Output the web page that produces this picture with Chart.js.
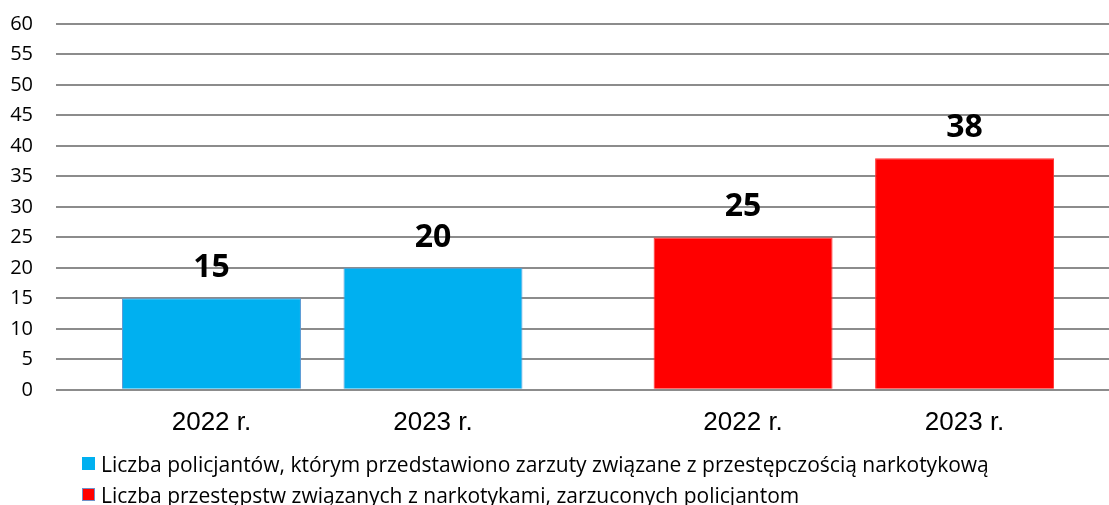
<!DOCTYPE html>
<html lang="pl">
<head>
<meta charset="utf-8">
<script src="https://cdn.jsdelivr.net/npm/chart.js@4"></script>
<style>
  html, body { margin: 0; padding: 0; background: #fff; }
  #wrap { position: relative; width: 1109px; height: 505px; }
  #legend { position: absolute; left: 82px; top: 448px; font-family: 'Open Sans', sans-serif; font-size: 21px; color: #000; }
  .item { display: flex; align-items: center; height: 31px; white-space: nowrap; }
  .box { width: 13px; height: 13px; margin-right: 6px; box-sizing: border-box; }
</style>
</head>
<body>
<div id="wrap">
  <canvas id="chart"></canvas>
  <div id="legend"></div>
</div>
<script>
// --- data ---
const years = ['2022 r.', '2023 r.'];
const officers = [15, 20];
const offences = [25, 38];
const seriesNames = [
  'Liczba policjantów, którym przedstawiono zarzuty związane z przestępczością narkotykową',
  'Liczba przestępstw związanych z narkotykami, zarzuconych policjantom'
];
const yTicks = { min: 0, max: 60, step: 5 };

// --- layout: bar slots along a linear x axis (1 = distance between bars of a group) ---
const GROUP_GAP = 0.4;
const slot = (group, i) => group * (years.length + GROUP_GAP) + i;
const xPositions = [];
const tickLabels = [];
[officers, offences].forEach((vals, g) => vals.forEach((v, i) => { xPositions.push(slot(g, i)); tickLabels.push(years[i]); }));

const colors = ['#00B0F0', '#FF0000'];
const borders = ['#5B9BD5', '#FF3030'];
const legendBorders = ['#00B0F0', '#6F8FC8'];

// numbers above the bars
const valueLabels = {
  id: 'valueLabels',
  afterDatasetsDraw(chart) {
    const ctx = chart.ctx;
    ctx.save();
    ctx.font = 'bold 32px "Open Sans", sans-serif';
    ctx.fillStyle = '#000';
    ctx.textAlign = 'center';
    ctx.textBaseline = 'alphabetic';
    chart.data.datasets.forEach((ds, di) => {
      chart.getDatasetMeta(di).data.forEach((bar, i) => {
        ctx.fillText(String(ds.data[i].y), bar.x, bar.y - 21);
      });
    });
    ctx.restore();
  }
};

new Chart(document.getElementById('chart'), {
  type: 'bar',
  data: {
    datasets: [officers, offences].map((vals, g) => ({
      label: seriesNames[g],
      data: vals.map((v, i) => ({ x: slot(g, i), y: v })),
      backgroundColor: colors[g],
      borderColor: borders[g],
      borderWidth: 1,
      grouped: false,
      barPercentage: 0.808,
      categoryPercentage: 1,
    })),
  },
  options: {
    responsive: true, maintainAspectRatio: false,
    animation: false,
    layout: { padding: { left: 10, right: 0, top: 24, bottom: 58 } },
    plugins: { legend: { display: false }, tooltip: { enabled: false } },
    scales: {
      x: {
        type: 'linear',
        offset: false,
        min: -0.702, max: 4.052,
        afterBuildTicks: axis => { axis.ticks = xPositions.map(v => ({ value: v })); },
        afterFit: axis => { axis.paddingLeft = 0; axis.paddingRight = 0; },
        ticks: {
          autoSkip: false, maxRotation: 0, padding: 9,
          color: '#000', font: { family: '"Liberation Sans", Arial, sans-serif', size: 26 },
          callback: (value, index) => tickLabels[index],
        },
        grid: { display: false },
        border: { display: false },
      },
      y: {
        min: yTicks.min, max: yTicks.max,
        afterFit: axis => { axis.paddingTop = 0; axis.paddingBottom = 0; axis.width = 46; },
        ticks: { stepSize: yTicks.step, padding: 23, color: '#000', font: { family: '"Open Sans", sans-serif', size: 20 } },
        grid: { color: '#8C8C8C', lineWidth: 2, drawTicks: false },
        border: { display: false },
      },
    },
  },
  plugins: [valueLabels],
});

document.getElementById('legend').innerHTML = seriesNames.map((name, g) =>
  `<div class="item"><span class="box" style="background:${colors[g]};border:1px solid ${legendBorders[g]}"></span>${name}</div>`
).join('');
</script>
</body>
</html>
